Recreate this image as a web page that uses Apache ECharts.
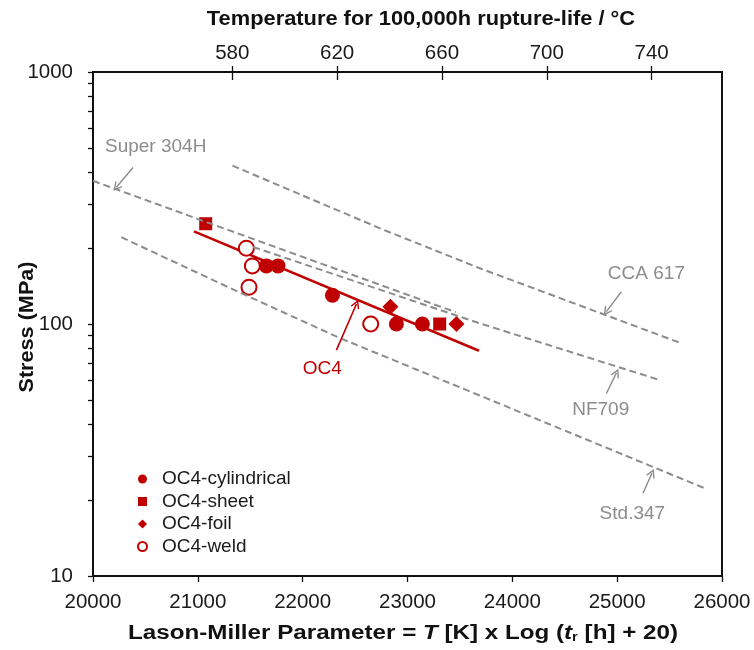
<!DOCTYPE html>
<html>
<head>
<meta charset="utf-8">
<script src="https://cdn.jsdelivr.net/npm/echarts@6.0.0/dist/echarts.min.js"></script>
<style>
  html, body { margin: 0; padding: 0; background: #fff; }
  #lmp_chart { width: 754px; height: 650px; }
</style>
</head>
<body>
<div id="lmp_chart"></div>
<script>
// axis ranges / ticks
const lmpRange = [20000, 26000];
const stressLabels = [10, 100, 1000];
const stressTicks = [10, 20, 30, 40, 50, 60, 70, 80, 90, 100, 200, 300, 400, 500, 600, 700, 800, 900, 1000];
const tempTicks = [580, 620, 660, 700, 740];

// OC4 test points (LMP, stress MPa)
const cylLmp = [21654, 21765, 22284, 22894, 23142];
const cylStress = [170, 170, 130, 100, 100];
const sheetLmp = [21075, 23307];
const sheetStress = [250, 100];
const foilLmp = [22837, 23467];
const foilStress = [117, 100];
const weldLmp = [21463, 21520, 21488, 22649];
const weldStress = [200, 170, 140, 100];

// OC4 fit line
const fitLmp = [20963, 23682];
const fitStress = [233, 78.3];

// reference alloys (dashed)
const super304Lmp = [20000, 21090, 23460];
const super304Stress = [370, 253, 111.4];
const nf709Lmp = [21528, 23690, 25407];
const nf709Stress = [202, 100.6, 59.9];
const cca617Lmp = [21330, 22766, 23690, 25597];
const cca617Stress = [425, 237, 166.4, 84.3];
const std347Lmp = [20270, 21306, 22353, 23740, 25834];
const std347Stress = [221, 139, 88, 51, 22.3];

// annotation text + arrows (from, to) in data units
const noteNames = ['Super 304H', 'CCA 617', 'NF709', 'Std.347'];
const notePos = [[20598, 505], [25279, 158.5], [24843, 45.6], [25145, 17.7]];
const arrowFrom = [[20382, 418], [25040, 134.3], [24897, 53], [25246, 21.3]];
const arrowTo = [[20223, 349], [24897, 111.9], [24993, 64], [25332, 25.6]];
const oc4Pos = [22188, 66.3];
const oc4ArrowFrom = [22322, 78.8];
const oc4ArrowTo = [22513, 120.1];

const RED = '#c00000';
const GRAY = '#8c8c8c';
const INK = '#111';
const FONT = 'Liberation Sans, Arial, sans-serif';
const arrowHead = 'path://M5,0 L10,8.5 L8.8,9.4 L5,3 L1.2,9.4 L0,8.5 Z';

function pairs(xs, ys) {
  return xs.map((x, i) => [x, ys[i]]);
}

// LMP = T[K] * (20 + log10(1e5)) -> temperature axis is linear in LMP
const tempMin = lmpRange[0] / 25 - 273.15;
const tempMax = lmpRange[1] / 25 - 273.15;

let myChart = echarts.init(document.getElementById('lmp_chart'));

function dashed(name, xs, ys, extra) {
  return Object.assign({
    name: name,
    type: 'line',
    data: pairs(xs, ys),
    symbol: 'none',
    z: 3,
    lineStyle: { color: GRAY, width: 2, type: [7, 4] },
    silent: true
  }, extra || {});
}

function points(name, xs, ys, symbol, size, style, z) {
  return {
    name: name,
    type: 'scatter',
    data: pairs(xs, ys),
    symbol: symbol,
    symbolSize: size,
    itemStyle: Object.assign({ opacity: 1 }, style),
    z: z
  };
}

const plain = (v) => String(v);

let option = {
  backgroundColor: '#fff',
  animation: false,
  textStyle: { fontFamily: FONT },
  graphic: [
    {
      type: 'text', x: 421, y: 20, scaleX: 1.12,
      style: {
        text: 'Temperature for 100,000h rupture-life / °C',
        align: 'center', verticalAlign: 'middle',
        fontFamily: FONT, fontSize: 19.5, fontWeight: 'bold', fill: INK
      }
    },
    {
      type: 'text', x: 403, y: 634, scaleX: 1.24,
      style: {
        text: 'Lason-Miller Parameter = {i|T} [K] x Log ({i|t}{s|r} [h] + 20)',
        align: 'center', verticalAlign: 'middle',
        fontFamily: FONT, fontSize: 19.5, fontWeight: 'bold', fill: INK,
        rich: {
          i: { fontFamily: FONT, fontSize: 19.5, fontWeight: 'bold', fontStyle: 'italic', fill: INK },
          s: { fontFamily: FONT, fontSize: 12, fontWeight: 'bold', fill: INK, padding: [8, 0, 0, 0] }
        }
      }
    },
    {
      type: 'text', x: 28, y: 327, rotation: Math.PI / 2, scaleX: 1.11,
      style: {
        text: 'Stress (MPa)',
        align: 'center', verticalAlign: 'middle',
        fontFamily: FONT, fontSize: 19.5, fontWeight: 'bold', fill: INK
      }
    }
  ],
  grid: {
    left: 93,
    right: 32,
    top: 72,
    bottom: 74,
    outerBoundsMode: 'none',
    containLabel: false,
    show: true,
    borderColor: INK,
    borderWidth: 2
  },
  legend: {
    orient: 'vertical',
    left: 137,
    top: 469,
    padding: 0,
    itemWidth: 9,
    itemHeight: 9,
    itemGap: 2.5,
    data: ['OC4-cylindrical', 'OC4-sheet', 'OC4-foil', 'OC4-weld'],
    textStyle: { fontFamily: FONT, fontSize: 19, color: '#1a1a1a', lineHeight: 20, padding: [0, 0, 0, 10] }
  },
  xAxis: [
    {
      type: 'value',
      position: 'bottom',
      min: lmpRange[0],
      max: lmpRange[1],
      interval: 1000,
      axisLine: { onZero: false, lineStyle: { color: INK, width: 2 } },
      axisTick: { length: 6, lineStyle: { color: INK, width: 1.3 } },
      axisLabel: { margin: 16, fontSize: 20.5, color: '#1a1a1a', fontFamily: FONT, formatter: plain },
      splitLine: { show: false }
    },
    {
      type: 'value',
      position: 'top',
      min: tempMin,
      max: tempMax,
      axisLine: { onZero: false, lineStyle: { color: INK, width: 2 } },
      axisTick: { length: 6, customValues: tempTicks, lineStyle: { color: INK, width: 1.3 } },
      axisLabel: { customValues: tempTicks, margin: 8, fontSize: 20.5, color: '#1a1a1a', fontFamily: FONT, formatter: plain },
      splitLine: { show: false }
    },
    {
      type: 'value',
      position: 'top',
      min: tempMin,
      max: tempMax,
      axisLine: { show: false },
      axisTick: { inside: true, length: 8, customValues: tempTicks, lineStyle: { color: INK, width: 1.3 } },
      axisLabel: { show: false },
      splitLine: { show: false }
    }
  ],
  yAxis: {
    type: 'log',
    logBase: 10,
    min: 10,
    max: 1000,
    axisLine: { lineStyle: { color: INK, width: 2 } },
    axisTick: { length: 5, customValues: stressTicks, lineStyle: { color: INK, width: 1.3 } },
    axisLabel: { customValues: stressLabels, margin: 20, fontSize: 20.5, color: '#1a1a1a', fontFamily: FONT, formatter: plain },
    splitLine: { show: false },
    minorTick: { show: false }
  },
  series: [
    dashed('Super 304H', super304Lmp, super304Stress, {
      markLine: {
        silent: true,
        symbol: ['none', arrowHead],
        symbolSize: [9, 9],
        label: { show: false },
        lineStyle: { color: GRAY, width: 1.4, type: 'solid' },
        data: arrowFrom.map((f, i) => [{ coord: f }, { coord: arrowTo[i] }])
      }
    }),
    dashed('NF709', nf709Lmp, nf709Stress),
    dashed('CCA 617', cca617Lmp, cca617Stress),
    dashed('Std.347', std347Lmp, std347Stress),
    {
      name: 'OC4 fit',
      type: 'line',
      data: pairs(fitLmp, fitStress),
      symbol: 'none',
      z: 2,
      silent: true,
      lineStyle: { color: RED, width: 2.5 },
      markLine: {
        silent: true,
        symbol: ['none', arrowHead],
        symbolSize: [9, 9],
        label: { show: false },
        lineStyle: { color: RED, width: 1.6, type: 'solid' },
        data: [[{ coord: oc4ArrowFrom }, { coord: oc4ArrowTo }]]
      }
    },
    points('OC4-weld', weldLmp, weldStress, 'circle', 15, { color: '#fff', borderColor: RED, borderWidth: 2 }, 2),
    points('OC4-cylindrical', cylLmp, cylStress, 'circle', 15, { color: RED }, 2),
    points('OC4-sheet', sheetLmp, sheetStress, 'rect', 13, { color: RED }, 2),
    points('OC4-foil', foilLmp, foilStress, 'diamond', 16, { color: RED }, 2),
    {
      name: 'notes',
      type: 'scatter',
      silent: true,
      symbolSize: 0.1,
      itemStyle: { color: 'transparent', opacity: 1 },
      z: 4,
      label: {
        show: true,
        position: 'inside',
        formatter: '{b}',
        fontFamily: FONT,
        fontSize: 19,
        color: GRAY,
        opacity: 1
      },
      data: noteNames.map((n, i) => ({ name: n, value: notePos[i] }))
        .concat([{ name: 'OC4', value: oc4Pos, label: { color: RED } }])
    }
  ]
};

myChart.setOption(option);
window.onresize = function () {
  myChart.resize();
};
</script>
</body>
</html>
